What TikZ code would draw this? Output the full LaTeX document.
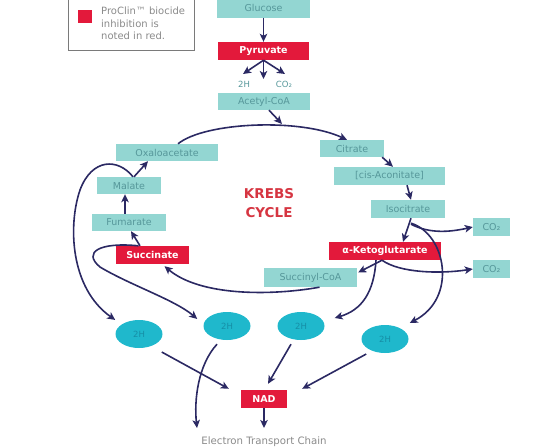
\documentclass[tikz,border=0pt]{standalone}
\usepackage{fontspec}
\setmainfont{DejaVu Sans}
\usetikzlibrary{arrows.meta,shapes.geometric}
\definecolor{tealfill}{HTML}{93D6D2}
\definecolor{tealtext}{HTML}{56979A}
\definecolor{redbox}{HTML}{E3193B}
\definecolor{ellfill}{HTML}{1FB8CC}
\definecolor{elltext}{HTML}{168EA6}
\definecolor{arrcol}{HTML}{2B2963}
\definecolor{krebscol}{HTML}{D63541}
\definecolor{legline}{HTML}{7A7A7A}
\definecolor{greytext}{HTML}{8A8A8A}
\begin{document}
\begin{tikzpicture}[x=1pt,y=-1pt,
  tbox/.style={fill=tealfill, text=tealtext, inner sep=0pt, font=\fontsize{9.5}{11}\selectfont},
  rbox/.style={fill=redbox, text=white, inner sep=0pt, font=\bfseries\fontsize{9.5}{11}\selectfont},
  hell/.style={ellipse, fill=ellfill, text=elltext, minimum width=47pt, minimum height=28pt, inner sep=0pt, font=\fontsize{8.5}{10}\selectfont},
  arr/.style={draw=arrcol, line width=1.6pt, -{Stealth[length=8pt,width=7.5pt,inset=2pt]}},
  lbl/.style={text=tealtext, inner sep=0pt, font=\fontsize{8.5}{10}\selectfont}]
\useasboundingbox (0,0) rectangle (550,448);

% legend
\draw[legline, line width=1pt] (68,-2) rectangle (194,50);
\fill[redbox] (78,10) rectangle (92,23);
\node[anchor=north west, align=left, text=greytext, inner sep=0pt,
      font=\fontsize{10}{12.5}\selectfont] (legtext) at (101,7)
  {ProClin™ biocide\\inhibition is\\noted in red.};

% boxes
\node[tbox, minimum width=93pt, minimum height=19pt] (glucose) at (263.5,8) {Glucose};
\node[rbox, minimum width=91pt, minimum height=18pt] (pyruvate) at (263.5,51) {Pyruvate};
\node[tbox, minimum width=92pt, minimum height=17pt] (acetyl) at (264,101.5) {Acetyl-CoA};
\node[tbox, minimum width=102pt, minimum height=17pt] (oxalo) at (167,152.5) {Oxaloacetate};
\node[tbox, minimum width=64pt, minimum height=17pt] (malate) at (129,185.5) {Malate};
\node[tbox, minimum width=74pt, minimum height=17pt] (fumarate) at (129,222.5) {Fumarate};
\node[rbox, minimum width=73pt, minimum height=18pt] (succinate) at (152.5,255) {Succinate};
\node[tbox, minimum width=64pt, minimum height=17pt] (citrate) at (352,148.5) {Citrate};
\node[tbox, minimum width=111pt, minimum height=18pt] (cisacon) at (389.5,176) {[cis-Aconitate]};
\node[tbox, minimum width=74pt, minimum height=18pt] (isocit) at (408,209) {Isocitrate};
\node[tbox, minimum width=37pt, minimum height=18pt] (co2a) at (491.5,227) {CO₂};
\node[rbox, minimum width=112pt, minimum height=18pt] (akg) at (385,251) {α-Ketoglutarate};
\node[tbox, minimum width=37pt, minimum height=18pt] (co2b) at (491.5,269) {CO₂};
\node[tbox, minimum width=93pt, minimum height=19pt] (succoa) at (310.5,277.5) {Succinyl-CoA};
\node[rbox, minimum width=46pt, minimum height=18pt] (nad) at (264,399) {NAD};

\node[hell] (h1) at (139,334) {2H};
\node[hell] (h2) at (227,326) {2H};
\node[hell] (h3) at (301,326) {2H};
\node[hell] (h4) at (385,339) {2H};

\node[lbl] (l2h) at (244,84) {2H};
\node[lbl] (lco2) at (284,84) {CO₂};
\node[align=center, text=krebscol, inner sep=0pt, font=\bfseries\fontsize{13.5}{18.5}\selectfont] (krebs) at (269,203) {KREBS\\CYCLE};
\node[text=greytext, inner sep=0pt, font=\fontsize{10.2}{11}\selectfont] (etc) at (264,442) {Electron Transport Chain};

\coordinate (p2h) at (243,74);
\coordinate (pmid) at (263.5,79);
\coordinate (pco2) at (285,74);
\coordinate (arcjoin) at (282,124);
\coordinate (etcL) at (197,428);
\coordinate (etcM) at (264,428);

% arrows
\draw[arr] (glucose.south) -- (pyruvate.north);
\draw[arr] (pyruvate.south) -- (p2h);
\draw[arr] (pyruvate.south) -- (pmid);
\draw[arr] (pyruvate.south) -- (pco2);
\draw[arr] ([xshift=5pt]acetyl.south) -- (arcjoin);
\draw[arr] ([xshift=11pt]oxalo.north) .. controls (205,122) and (300,118) .. ([xshift=-5pt]citrate.north);
\draw[arr] ([xshift=-2pt]citrate.south east) -- ([xshift=3.5pt]cisacon.north);
\draw[arr] ([xshift=17.5pt]cisacon.south) -- ([xshift=3pt]isocit.north);
\draw[arr] ([xshift=3pt]isocit.south) -- ([xshift=18pt]akg.north);
\draw[arr] ([xshift=3pt,yshift=-6pt]isocit.south) .. controls (430,234) and (450,232) .. (co2a.west);
\draw[arr] ([xshift=3pt,yshift=-5pt]isocit.south) .. controls (446,234) and (458,298) .. ([shift={(8pt,6pt)}]h4.north east);
\draw[arr] ([xshift=-3pt]akg.south) -- ([shift={(1pt,5pt)}]succoa.east);
\draw[arr] ([xshift=-3pt]akg.south) .. controls (400,273) and (440,274) .. (co2b.west);
\draw[arr] ([xshift=-9pt]akg.south) .. controls (374,292) and (362,310) .. ([shift={(10pt,8pt)}]h3.east);
\draw[arr] ([xshift=9pt]succoa.south) .. controls (270,296) and (200,296) .. ([shift={(12pt,-2pt)}]succinate.south);
\draw[arr] ([xshift=-12.5pt]succinate.north) -- ([xshift=2pt]fumarate.south);
\draw[arr] ([xshift=-14pt]succinate.north) .. controls (100,242) and (82,252) .. (100,267)
   .. controls (130,285) and (175,300) .. ([shift={(-13pt,-3pt)}]h2.north west);
\draw[arr] ([xshift=-4pt]fumarate.north) -- ([xshift=-4pt]malate.south);
\draw[arr] ([xshift=5pt]malate.north) -- ([xshift=-19pt]oxalo.south);
\draw[arr] ([xshift=4pt]malate.north) .. controls (118,158) and (92,158) .. (80,190)
   .. controls (68,225) and (70,288) .. ([shift={(-7pt,4pt)}]h1.north west);
\draw[arr] ([shift={(6pt,-8pt)}]h1.south east) -- ([shift={(-12pt,1pt)}]nad.north west);
\draw[arr] ([xshift=-10pt,yshift=-4pt]h3.south) -- ([shift={(4pt,6pt)}]nad.north);
\draw[arr] ([shift={(-2pt,-5pt)}]h4.south west) -- ([shift={(15pt,1pt)}]nad.north east);
\draw[arr] ([shift={(-10pt,-4pt)}]h2.south) .. controls (198,365) and (194,400) .. (etcL);
\draw[arr] (nad.south) -- (etcM);
\end{tikzpicture}
\end{document}
